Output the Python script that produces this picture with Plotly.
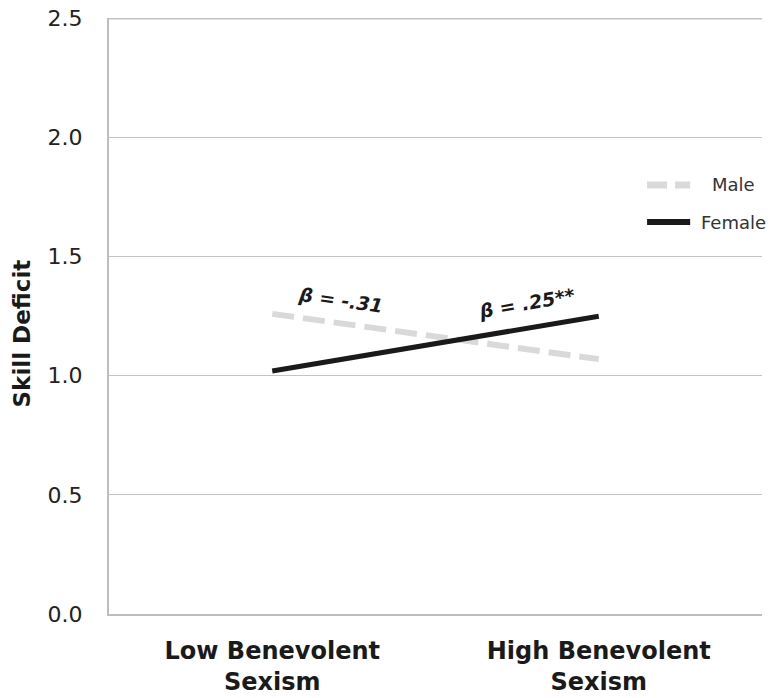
import plotly.graph_objects as go

categories = ["Low Benevolent<br>Sexism", "High Benevolent<br>Sexism"]
male = [1.26, 1.07]
female = [1.02, 1.25]
y_ticks = [0.0, 0.5, 1.0, 1.5, 2.0, 2.5]
y_ticklabels = ["0.0", "0.5", "1.0", "1.5", "2.0", "2.5"]
series_names = ["Male", "Female"]
series_colors = ["#d9d9d9", "#1a1a1a"]
series_dash = ["22px,9px", "solid"]
series_width = [6, 5]

fig = go.Figure()
for name, vals, col, dsh, w in zip(series_names, [male, female], series_colors, series_dash, series_width):
    fig.add_trace(go.Scatter(x=[0, 1], y=vals, mode="lines", name=name, showlegend=False,
                             line=dict(color=col, width=w, dash=dsh)))

# manual legend
legend_y = [0.7198, 0.6577]
legend_dash = ["20px,8px", "solid"]
for name, col, dsh, w, ly in zip(series_names, series_colors, legend_dash, [7, 6], legend_y):
    fig.add_shape(type="line", xref="paper", yref="paper", x0=0.824, x1=0.890, y0=ly, y1=ly,
                  line=dict(color=col, width=w, dash=dsh))
    fig.add_annotation(x=0.957, y=ly, xref="paper", yref="paper", text=name, showarrow=False,
                       xanchor="center", yanchor="middle",
                       font=dict(family="DejaVu Sans", size=18, color="#333"))

# top gridline at 2.5
fig.add_shape(type="line", xref="paper", yref="y", x0=0, x1=1, y0=2.5, y1=2.5,
              line=dict(color="#c4c4c4", width=2), layer="below")

fig.add_annotation(x=0.21, y=1.317, text="<b><i>β = -.31</i></b>", showarrow=False,
                   textangle=8, font=dict(family="DejaVu Sans", size=19, color="#1a1a1a"))
fig.add_annotation(x=0.78, y=1.305, text="<b><i>β = .25**</i></b>", showarrow=False,
                   textangle=-10, font=dict(family="DejaVu Sans", size=19, color="#1a1a1a"))

fig.add_annotation(x=-0.134, y=0.4715, xref="paper", yref="paper", text="<b>Skill Deficit</b>",
                   showarrow=False, textangle=-90, xanchor="center", yanchor="middle",
                   font=dict(family="DejaVu Sans", size=23, color="#1a1a1a"))

fig.update_layout(
    width=776, height=698,
    margin=dict(l=109, r=14, t=18, b=84, autoexpand=False),
    plot_bgcolor="white", paper_bgcolor="white",
    showlegend=False,
    xaxis=dict(range=[-0.5, 1.5], tickvals=[0, 1], ticktext=categories, automargin=False,
               showgrid=False, zeroline=False, showline=True, linecolor="#bdbdbd", linewidth=2,
               tickfont=dict(family="DejaVu Sans", size=24, color="#1a1a1a", weight="bold"),
               ticks="", ticklabelstandoff=14, ticklabeloverflow="allow"),
    yaxis=dict(range=[0, 2.502], tickvals=y_ticks, ticktext=y_ticklabels, automargin=False,
               showgrid=True, gridcolor="#c4c4c4", gridwidth=1, zeroline=False,
               showline=True, linecolor="#bdbdbd", linewidth=2,
               tickfont=dict(family="DejaVu Sans", size=22, color="#222"),
               ticks="", ticklabelstandoff=20, ticklabeloverflow="allow"),
)
fig.write_html("out.html", config={"displayModeBar": False},
               post_script="document.body.style.margin='0';document.body.style.overflow='hidden';")
